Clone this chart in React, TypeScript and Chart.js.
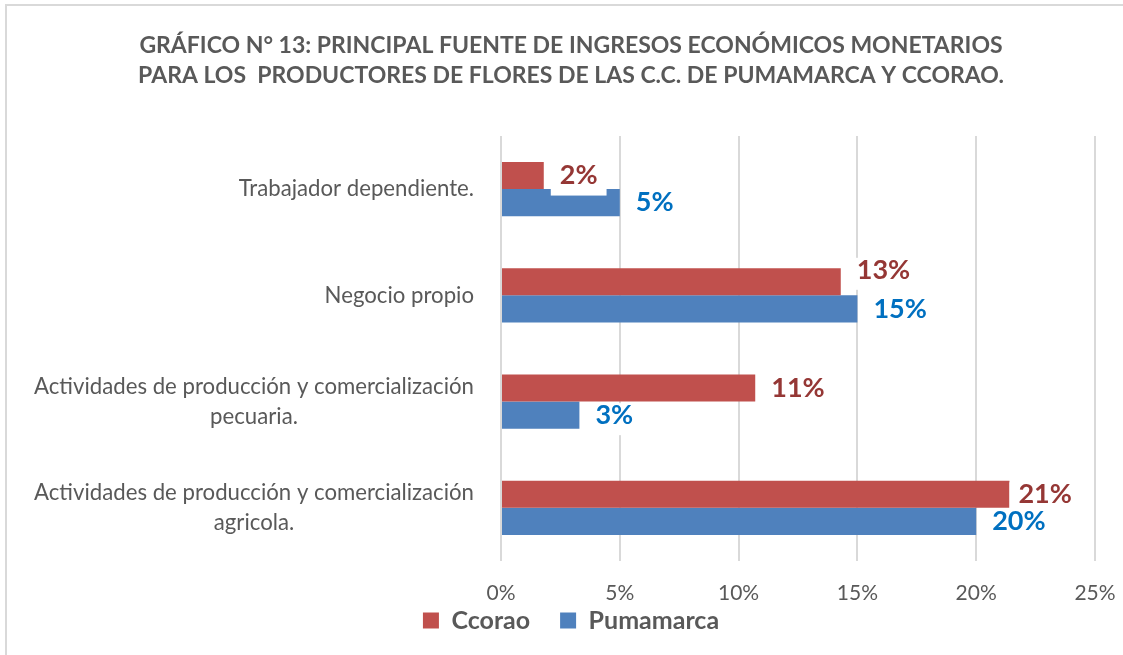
import React, { useEffect, useRef } from "react";
import { Chart, registerables } from "chart.js";

Chart.register(...registerables);

// ---------- data ----------
const categories: string[][] = [
  ["Trabajador dependiente."],
  ["Negocio propio"],
  ["Actividades de producción y comercialización", "pecuaria."],
  ["Actividades de producción y comercialización", "agricola."],
];
const seriesNames = ["Ccorao", "Pumamarca"];
const ccoraoValues = [1.8, 14.3, 10.7, 21.4];
const pumamarcaValues = [5.0, 15.0, 3.3, 20.0];
const ccoraoLabels = ["2%", "13%", "11%", "21%"];
const pumamarcaLabels = ["5%", "15%", "3%", "20%"];
const xTicks = [0, 5, 10, 15, 20, 25];
const titleLines = [
  "GRÁFICO N° 13: PRINCIPAL FUENTE DE INGRESOS ECONÓMICOS MONETARIOS",
  "PARA LOS  PRODUCTORES DE FLORES DE LAS C.C. DE PUMAMARCA Y CCORAO.",
];

// ---------- style ----------
const FONT = "Lato, 'Open Sans', sans-serif";
const TEXT = "#595959";
const GRID = "#d9d9d9";
const barColors = ["#C0504D", "#4F81BD"];
const labelColors = ["#953735", "#0070C0"];
const labelNudges = [
  [[0, 0], [0, -12], [0, 0], [-7, 0]],
  [[0, 0], [0, 0], [0, 0], [0, 0]],
];
const PAD_LEFT = 47;
const PLOT_LEFT = 501;

const backgroundPlugin = {
  id: "bgBorder",
  afterLayout(chart: any) {
    // let the x tick labels extend below the (slim) x-axis box without being clipped
    const x = chart.scales.x;
    if (x) x.bottom = x.top + 46;
  },
  beforeDraw(chart: any) {
    const { ctx, width, height } = chart;
    ctx.save();
    ctx.fillStyle = "#ffffff";
    ctx.fillRect(0, 0, width, height);
    ctx.strokeStyle = GRID;
    ctx.lineWidth = 2;
    ctx.beginPath();
    ctx.moveTo(6, height);
    ctx.lineTo(6, 5);
    ctx.lineTo(width, 5);
    ctx.stroke();
    ctx.restore();
  },
};

const yLabelPlugin = {
  id: "yLabels",
  afterDraw(chart: any) {
    const { ctx, chartArea } = chart;
    const yScale = chart.scales.y;
    ctx.save();
    ctx.font = `22.2px ${FONT}`;
    ctx.fillStyle = TEXT;
    ctx.textAlign = "center";
    ctx.textBaseline = "middle";
    const right = chartArea.left - 27;
    const lh = 30;
    categories.forEach((lines, i) => {
      const cy = yScale.getPixelForTick(i);
      const w = Math.max(...lines.map((l) => ctx.measureText(l).width));
      const cx = right - w / 2;
      lines.forEach((l, j) => {
        ctx.fillText(l, cx, cy + (j - (lines.length - 1) / 2) * lh);
      });
    });
    ctx.restore();
  },
};

const dataLabelPlugin = {
  id: "dataLabels",
  afterDatasetsDraw(chart: any) {
    const { ctx } = chart;
    const allLabels = [ccoraoLabels, pumamarcaLabels];
    ctx.save();
    ctx.font = `bold 27px ${FONT}`;
    ctx.textBaseline = "middle";
    ctx.textAlign = "left";
    chart.data.datasets.forEach((_ds: any, d: number) => {
      const meta = chart.getDatasetMeta(d);
      meta.data.forEach((bar: any, i: number) => {
        const text = allLabels[d][i];
        const [dx, dy] = labelNudges[d][i];
        const x = bar.x + 16 + dx;
        const y = bar.y + dy;
        const w = ctx.measureText(text).width;
        ctx.fillStyle = "#ffffff";
        ctx.fillRect(x - 9, y - 12, w + 18, 32);
        ctx.fillStyle = labelColors[d];
        ctx.fillText(text, x, y);
      });
    });
    ctx.restore();
  },
};

export default function App() {
  const ref = useRef<HTMLCanvasElement | null>(null);
  useEffect(() => {
    if (!ref.current) return;
    const chart = new Chart(ref.current, {
      type: "bar",
      data: {
        labels: categories,
        datasets: [
          {
            label: seriesNames[0],
            data: ccoraoValues,
            backgroundColor: barColors[0],
            categoryPercentage: 0.51,
            barPercentage: 1,
          },
          {
            label: seriesNames[1],
            data: pumamarcaValues,
            backgroundColor: barColors[1],
            categoryPercentage: 0.51,
            barPercentage: 1,
          },
        ],
      },
      options: {
        indexAxis: "y",
        responsive: false,
        animation: false,
        layout: { padding: { left: PAD_LEFT, right: 28, top: 0, bottom: 12 } },
        scales: {
          x: {
            min: 0,
            max: 25,
            afterBuildTicks: (scale: any) => {
              scale.ticks = xTicks.map((v) => ({ value: v }));
            },
            ticks: {
              callback: (v: any) => `${v}%`,
              color: TEXT,
              font: { family: FONT, size: 21 },
              padding: 20,
            },
            grid: { color: GRID, lineWidth: 2, drawTicks: false },
            border: { display: false },
            afterFit: (scale: any) => {
              scale.height = 17;
              scale.paddingLeft = 0;
              scale.paddingRight = 0;
            },
          },
          y: {
            ticks: { display: false },
            grid: { display: false },
            border: { display: false },
            afterFit: (scale: any) => {
              scale.width = PLOT_LEFT - PAD_LEFT;
            },
          },
        },
        plugins: {
          title: {
            display: true,
            text: titleLines,
            color: TEXT,
            font: { family: FONT, size: 23, weight: "bold", lineHeight: 1.304 },
            padding: { top: 31, bottom: 45 },
          },
          legend: {
            position: "bottom",
            labels: {
              color: TEXT,
              font: { family: FONT, size: 25, weight: "bold" },
              boxWidth: 16,
              boxHeight: 16,
              padding: 30,
            },
          },
          tooltip: { enabled: false },
        },
      },
      plugins: [backgroundPlugin, yLabelPlugin, dataLabelPlugin],
    });
    return () => chart.destroy();
  }, []);
  return (
    <div style={{ position: "fixed", left: 0, top: 0, width: 1123, height: 655 }}>
      <canvas ref={ref} width={1123} height={655} />
    </div>
  );
}
